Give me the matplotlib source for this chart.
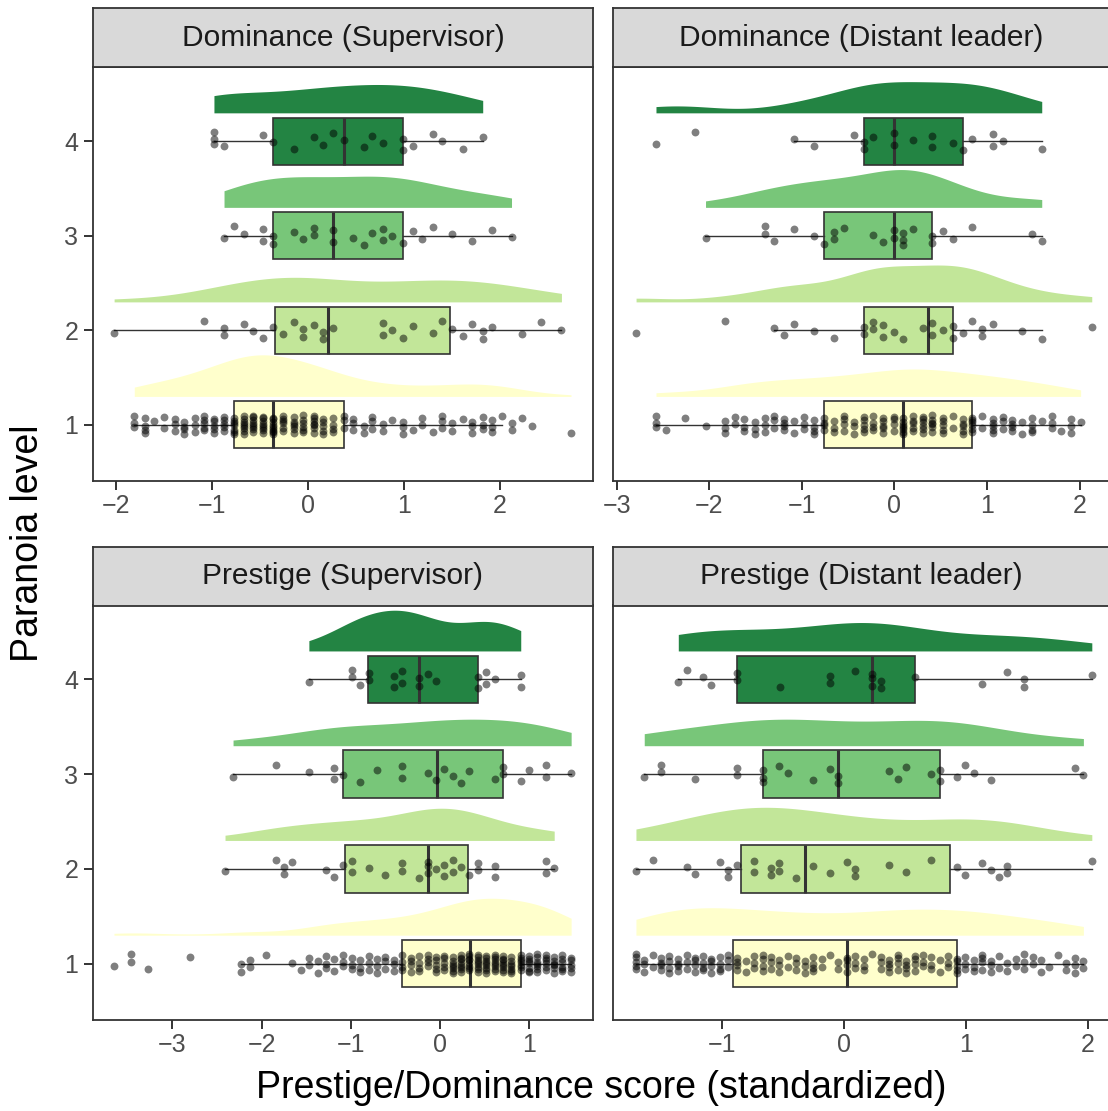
import numpy as np
import matplotlib
matplotlib.use("Agg")
import matplotlib.pyplot as plt

plt.rcParams['font.family'] = ['Liberation Sans', 'DejaVu Sans']

# ---------------- data ----------------
levels = [1, 2, 3, 4]
level_colors = ['#ffffcc', '#c2e699', '#78c679', '#238443']
panel_titles = ['Dominance (Supervisor)', 'Dominance (Distant leader)',
                'Prestige (Supervisor)', 'Prestige (Distant leader)']
y_label = 'Paranoia level'
x_label = 'Prestige/Dominance score (standardized)'

# Dominance (Supervisor)
dom_sup_L1_vals = [-1.81, -1.70, -1.60, -1.50, -1.39, -1.29, -1.18, -1.08, -0.98, -0.875,
                   -0.77, -0.67, -0.57, -0.465, -0.36, -0.26, -0.15, -0.05, 0.06, 0.16,
                   0.26, 0.37, 0.47, 0.58, 0.67, 0.78, 0.88, 0.99, 1.09, 1.19,
                   1.30, 1.40, 1.50, 1.61, 1.71, 1.82, 1.92, 2.02, 2.12, 2.23, 2.33, 2.74]
dom_sup_L1_counts = [3, 4, 1, 2, 3, 4, 3, 5, 5, 5, 7, 8, 8, 8, 9, 6, 6, 6, 7, 5,
                     4, 3, 3, 2, 3, 2, 1, 3, 1, 2, 1, 3, 2, 1, 3, 3, 3, 1, 2, 1, 1, 1]
dom_sup_L2 = [-2.02, -1.08, -0.875, -0.875, -0.67, -0.57, -0.465, -0.36, -0.26, -0.15, -0.05, -0.05,
              0.06, 0.16, 0.16, 0.26, 0.78, 0.78, 0.88, 0.99, 1.09, 1.30, 1.40, 1.50, 1.61, 1.71,
              1.82, 1.82, 1.92, 2.23, 2.43, 2.64]
dom_sup_L3 = [-0.875, -0.77, -0.67, -0.465, -0.465, -0.36, -0.36, -0.15, -0.05, 0.06, 0.06, 0.26,
              0.26, 0.47, 0.58, 0.67, 0.78, 0.78, 0.88, 0.99, 1.09, 1.19, 1.30, 1.50, 1.71, 1.92, 2.12]
dom_sup_L4 = [-0.98, -0.98, -0.98, -0.875, -0.465, -0.36, -0.15, 0.06, 0.16, 0.26, 0.37, 0.58,
              0.67, 0.78, 0.99, 0.99, 1.09, 1.30, 1.40, 1.61, 1.82]
# box stats per level 1..4: whisker low, q1, median, q3, whisker high
dom_sup_box = [[-1.81, -0.77, -0.36, 0.37, 2.02],
               [-2.02, -0.34, 0.21, 1.48, 2.64],
               [-0.875, -0.36, 0.26, 0.99, 2.12],
               [-0.98, -0.36, 0.37, 0.99, 1.82]]
dom_sup_peak = [0.44, 0.26, 0.33, 0.30]

# Dominance (Distant leader)
dom_dis_L1_vals = [-2.575, -2.47, -2.26, -2.04, -1.83, -1.72, -1.62, -1.51, -1.40, -1.30,
                   -1.19, -1.085, -0.98, -0.87, -0.76, -0.65, -0.55, -0.44, -0.33, -0.23,
                   -0.12, -0.01, 0.09, 0.20, 0.31, 0.41, 0.52, 0.63, 0.74, 0.84,
                   0.95, 1.06, 1.17, 1.27, 1.38, 1.48, 1.59, 1.70, 1.80, 1.91, 2.01]
dom_dis_L1_counts = [3, 1, 1, 1, 3, 2, 3, 3, 3, 3, 4, 2, 3, 4, 4, 3, 4, 3, 5, 4,
                     5, 4, 7, 5, 6, 6, 5, 2, 5, 6, 2, 5, 3, 4, 2, 4, 1, 3, 1, 3, 1]
dom_dis_L2 = [-2.79, -1.83, -1.30, -1.19, -1.085, -0.87, -0.65, -0.33, -0.33, -0.23, -0.23, -0.12,
              -0.12, -0.01, 0.09, 0.31, 0.41, 0.41, 0.52, 0.63, 0.63, 0.74, 0.84, 0.95, 0.95, 1.06,
              1.38, 1.59, 2.13]
dom_dis_L3 = [-2.04, -1.40, -1.40, -1.30, -1.085, -0.87, -0.76, -0.65, -0.65, -0.55, -0.23, -0.12,
              -0.01, -0.01, 0.09, 0.09, 0.09, 0.20, 0.41, 0.41, 0.52, 0.63, 0.84, 1.48, 1.59]
dom_dis_L4 = [-2.575, -2.15, -1.085, -0.87, -0.44, -0.33, -0.33, -0.23, -0.01, -0.01, 0.20, 0.41,
              0.41, 0.63, 0.74, 0.84, 1.06, 1.06, 1.17, 1.59]
dom_dis_box = [[-2.575, -0.76, 0.09, 0.84, 2.01],
               [-1.30, -0.33, 0.36, 0.63, 1.59],
               [-2.045, -0.76, -0.01, 0.41, 1.59],
               [-1.085, -0.33, -0.01, 0.74, 1.59]]
dom_dis_peak = [0.29, 0.39, 0.40, 0.33]

# Prestige (Supervisor)
pre_sup_L1_vals = [-3.655, -3.46, -3.27, -2.80,
                   -2.23, -2.13, -1.95, -1.66, -1.56,
                   -1.47, -1.37, -1.28, -1.19, -1.085, -0.99, -0.90, -0.80, -0.71, -0.62, -0.52,
                   -0.43, -0.33, -0.24, -0.14, -0.045, 0.05,
                   0.14, 0.24, 0.33, 0.43, 0.52, 0.62, 0.71,
                   0.80, 0.905, 1.00, 1.09, 1.19, 1.28, 1.37, 1.47]
pre_sup_L1_counts = [1, 2, 1, 1,
                     2, 2, 1, 1, 1,
                     2, 2, 3, 2, 3, 3, 3, 3, 3, 3, 3,
                     4, 4, 4, 4, 5, 5,
                     7, 8, 8, 8, 8, 8, 8,
                     7, 7, 7, 7, 6, 6, 6, 5]
pre_sup_L2 = [-2.41, -1.84, -1.75, -1.75, -1.66, -1.28, -1.19, -1.085, -0.99, -0.99, -0.80, -0.62,
              -0.43, -0.43, -0.24, -0.14, -0.14, -0.14, -0.045, 0.05, 0.05, 0.14, 0.14, 0.24,
              0.33, 0.43, 0.43, 0.62, 0.62, 1.19, 1.19, 1.28]
pre_sup_L3 = [-2.32, -1.84, -1.47, -1.19, -1.19, -1.085, -0.90, -0.71, -0.43, -0.43, -0.14, -0.045,
              0.05, 0.14, 0.24, 0.33, 0.62, 0.71, 0.71, 0.905, 1.00, 1.19, 1.19, 1.47]
pre_sup_L4 = [-1.47, -0.99, -0.99, -0.90, -0.80, -0.80, -0.52, -0.52, -0.43, -0.43, -0.24, -0.24,
              -0.14, -0.045, 0.43, 0.43, 0.52, 0.52, 0.62, 0.905, 0.905]
pre_sup_box = [[-2.23, -0.43, 0.34, 0.905, 1.47],
               [-2.41, -1.07, -0.13, 0.31, 1.28],
               [-2.32, -1.085, -0.034, 0.71, 1.47],
               [-1.467, -0.805, -0.236, 0.43, 0.906]]
pre_sup_peak = [0.39, 0.34, 0.28, 0.43]

# Prestige (Distant leader)
pre_dis_L1_vals = [-1.705, -1.637, -1.568, -1.50, -1.432, -1.361, -1.29, -1.222, -1.154, -1.086,
                   -1.015, -0.947, -0.876, -0.807, -0.739, -0.668, -0.597, -0.529, -0.458, -0.39,
                   -0.322, -0.254, -0.183, -0.115, -0.046, 0.025, 0.093, 0.164, 0.232, 0.30,
                   0.371, 0.439, 0.51, 0.578, 0.649, 0.715, 0.783, 0.854, 0.922, 0.99,
                   1.061, 1.129, 1.20, 1.268, 1.337, 1.408, 1.478, 1.547, 1.615, 1.683,
                   1.754, 1.822, 1.89, 1.961]
pre_dis_L1_counts = [5, 3, 2, 4, 4, 4, 3, 4, 4, 4,
                     4, 3, 4, 2, 3, 4, 3, 3, 2, 3,
                     3, 4, 2, 1, 2, 4, 3, 3, 1, 3,
                     4, 4, 4, 4, 3, 3, 2, 3, 5, 3,
                     3, 4, 3, 2, 2, 2, 3, 2, 2, 1,
                     1, 2, 3, 2]
pre_dis_L2 = [-1.705, -1.568, -1.29, -1.222, -1.015, -0.947, -0.947, -0.876, -0.739, -0.739, -0.597,
              -0.597, -0.529, -0.529, -0.39, -0.254, -0.115, 0.025, 0.093, 0.093, 0.371, 0.51,
              0.715, 0.922, 0.99, 1.129, 1.20, 1.268, 1.337, 1.337, 2.03]
pre_dis_L3 = [-1.637, -1.50, -1.50, -1.222, -0.876, -0.876, -0.668, -0.668, -0.668, -0.529, -0.458,
              -0.254, -0.115, -0.046, -0.046, 0.371, 0.439, 0.51, 0.715, 0.783, 0.783, 0.922,
              0.99, 1.061, 1.20, 1.89, 1.961]
pre_dis_L4 = [-1.358, -1.29, -1.154, -1.086, -0.876, -0.876, -0.526, -0.115, -0.115, 0.093, 0.232,
              0.232, 0.232, 0.30, 0.30, 0.578, 1.129, 1.337, 1.478, 1.478, 2.03]
pre_dis_box = [[-1.705, -0.911, 0.025, 0.925, 1.96],
               [-1.705, -0.843, -0.322, 0.87, 2.03],
               [-1.637, -0.668, -0.046, 0.783, 1.96],
               [-1.358, -0.876, 0.232, 0.578, 2.03]]
pre_dis_peak = [0.29, 0.35, 0.28, 0.30]

y_ticks = [1, 2, 3, 4]
x_ticks_list = [[-2, -1, 0, 1, 2], [-3, -2, -1, 0, 1, 2], [-3, -2, -1, 0, 1], [-1, 0, 1, 2]]

# ---------------- layout ----------------
W, H = 1108, 1111
fig = plt.figure(figsize=(W / 100, H / 100), dpi=100)
fig.patch.set_facecolor('white')


def add_ax(x0, y0, x1, y1):
    return fig.add_axes([x0 / W, 1 - y1 / H, (x1 - x0) / W, (y1 - y0) / H])


panel_px = [(93, 67, 593, 481), (613, 67, 1110, 481), (93, 605, 593, 1020), (613, 605, 1110, 1020)]
strip_px = [(93, 8, 593, 67), (613, 8, 1110, 67), (93, 547, 593, 606), (613, 547, 1110, 606)]
xlims = [(-2.24, 2.969), (-3.039, 2.327), (-3.89, 1.715), (-1.893, 2.179)]
ylim = (0.405, 4.785)

EDGE = '#333333'


def bw_nrd0(v):
    v = np.asarray(v, float)
    sd = v.std(ddof=1)
    iqr = np.subtract(*np.percentile(v, [75, 25]))
    lo = min(sd, iqr / 1.34) if iqr > 0 else sd
    return 0.9 * lo * len(v) ** (-0.2)


def jitter(n, amp=0.1):
    return amp * (2 * ((np.arange(n) * 0.6180339887 + 0.37) % 1.0) - 1)


def draw_panel(ax, groups, box, peaks):
    for i, lvl in enumerate(levels):
        v = np.asarray(groups[i], float)
        col = level_colors[i]
        # flat half violin
        xs = np.linspace(v.min(), v.max(), 300)
        h = bw_nrd0(v)
        d = np.exp(-0.5 * ((xs[:, None] - v[None, :]) / h) ** 2).sum(axis=1)
        d = d / d.max() * peaks[i]
        ax.fill_between(xs, lvl + 0.3, lvl + 0.3 + d, color=col, lw=0, zorder=1)
        # box
        b = box[i]
        stats = [dict(whislo=b[0], q1=b[1], med=b[2], q3=b[3], whishi=b[4], fliers=[])]
        kw = dict(positions=[lvl], widths=0.5, patch_artist=True, showcaps=False,
                  showfliers=False, manage_ticks=False,
                  boxprops=dict(facecolor=col, edgecolor=EDGE, linewidth=1.2),
                  medianprops=dict(color=EDGE, linewidth=2.2),
                  whiskerprops=dict(color=EDGE, linewidth=1.0), zorder=2)
        try:
            ax.bxp(stats, orientation='horizontal', **kw)
        except TypeError:
            ax.bxp(stats, vert=False, **kw)
        # jittered points
        ax.scatter(v, lvl + jitter(len(v)), s=32, c='black', alpha=0.5, lw=0, zorder=3)


all_groups = [
    [np.repeat(dom_sup_L1_vals, dom_sup_L1_counts), dom_sup_L2, dom_sup_L3, dom_sup_L4],
    [np.repeat(dom_dis_L1_vals, dom_dis_L1_counts), dom_dis_L2, dom_dis_L3, dom_dis_L4],
    [np.repeat(pre_sup_L1_vals, pre_sup_L1_counts), pre_sup_L2, pre_sup_L3, pre_sup_L4],
    [np.repeat(pre_dis_L1_vals, pre_dis_L1_counts), pre_dis_L2, pre_dis_L3, pre_dis_L4],
]
all_boxes = [dom_sup_box, dom_dis_box, pre_sup_box, pre_dis_box]
all_peaks = [dom_sup_peak, dom_dis_peak, pre_sup_peak, pre_dis_peak]

for p in range(4):
    ax = add_ax(*panel_px[p])
    draw_panel(ax, all_groups[p], all_boxes[p], all_peaks[p])
    ax.set_xlim(*xlims[p])
    ax.set_ylim(*ylim)
    ax.set_xticks(x_ticks_list[p])
    ax.set_xticklabels([('\u2212' + str(-t)) if t < 0 else str(t) for t in x_ticks_list[p]])
    ax.tick_params(axis='x', direction='out', length=6.5, width=1.4, color=EDGE,
                   labelsize=18, labelcolor='#4d4d4d', pad=3)
    if p in (0, 2):
        ax.set_yticks(y_ticks)
        ax.set_yticklabels([str(t) for t in y_ticks])
        ax.tick_params(axis='y', direction='out', length=6.5, width=1.4, color=EDGE,
                       labelsize=18, labelcolor='#4d4d4d', pad=4)
    else:
        ax.set_yticks([])
    for s in ax.spines.values():
        s.set_color(EDGE)
        s.set_linewidth(1.3)
    ax.set_facecolor('white')

    sax = add_ax(*strip_px[p])
    sax.set_facecolor('#d9d9d9')
    sax.set_xticks([])
    sax.set_yticks([])
    for s in sax.spines.values():
        s.set_color(EDGE)
        s.set_linewidth(1.3)
    sax.text(0.5, 0.5, panel_titles[p], ha='center', va='center', fontsize=21.5,
             color='#1a1a1a', transform=sax.transAxes)

fig.text(28 / W, 1 - 543 / H, y_label, rotation=90, ha='center', va='center', fontsize=27)
fig.text(601 / W, 1 - 1088 / H, x_label, ha='center', va='center', fontsize=27)

fig.savefig('out.png', dpi=100, facecolor='white')
